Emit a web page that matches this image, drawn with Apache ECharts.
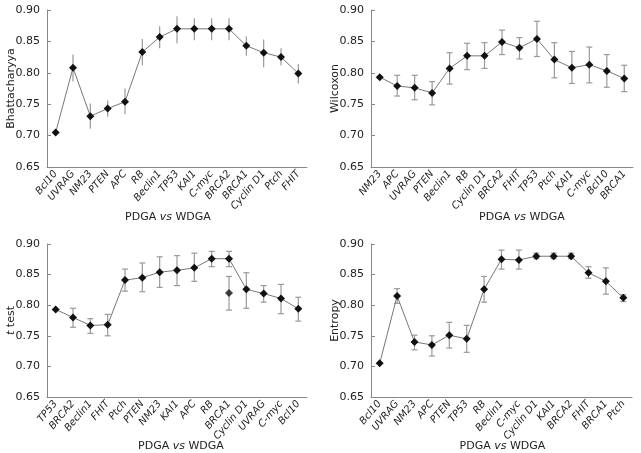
<!DOCTYPE html>
<html><head><meta charset="utf-8">
<script src="https://cdn.jsdelivr.net/npm/echarts@6/dist/echarts.min.js"></script>
<style>html,body{margin:0;padding:0;background:#fff}#c{width:641px;height:453px}</style>
</head><body><div id="c"></div>
<script>
// Panel 1: Bhattacharyya
var cats1 = ['Bcl10','UVRAG','NM23','PTEN','APC','RB','Beclin1','TP53','KAI1','C-myc','BRCA2','BRCA1','Cyclin D1','Ptch','FHIT'];
var vals1 = [0.705,0.808,0.731,0.743,0.754,0.833,0.857,0.870,0.870,0.870,0.870,0.843,0.832,0.825,0.799];
var lo1 = [null,0.786,0.711,0.730,0.734,0.812,0.839,0.847,0.852,0.852,0.852,0.827,0.809,0.812,0.783];
var hi1 = [null,0.829,0.751,0.756,0.775,0.854,0.874,0.890,0.887,0.887,0.887,0.858,0.853,0.839,0.814];
// Panel 2: Wilcoxon
var cats2 = ['NM23','APC','UVRAG','PTEN','Beclin1','RB','Cyclin D1','BRCA2','FHIT','TP53','Ptch','KAI1','C-myc','Bcl10','BRCA1'];
var vals2 = [0.793,0.779,0.776,0.768,0.807,0.827,0.827,0.849,0.840,0.854,0.821,0.808,0.813,0.803,0.791];
var lo2 = [null,0.763,0.757,0.749,0.782,0.805,0.807,0.829,0.822,0.826,0.792,0.783,0.784,0.777,0.770];
var hi2 = [null,0.796,0.796,0.786,0.832,0.847,0.848,0.868,0.856,0.882,0.848,0.834,0.841,0.829,0.812];
// Panel 3: t test
var cats3 = ['TP53','BRCA2','Beclin1','FHIT','Ptch','PTEN','NM23','KAI1','APC','RB','BRCA1','Cyclin D1','UVRAG','C-myc','Bcl10'];
var vals3 = [0.793,0.780,0.767,0.768,0.841,0.845,0.854,0.857,0.861,0.876,0.876,0.826,0.819,0.811,0.794];
var lo3 = [null,0.764,0.754,0.750,0.823,0.822,0.829,0.832,0.839,0.863,0.863,0.795,0.805,0.786,0.774];
var hi3 = [null,0.795,0.778,0.785,0.859,0.869,0.879,0.881,0.885,0.888,0.888,0.853,0.832,0.834,0.813];
var extraCat3 = 'BRCA1';
var extraVal3 = 0.820, extraLo3 = 0.792, extraHi3 = 0.847;
// Panel 4: Entropy
var cats4 = ['Bcl10','UVRAG','NM23','APC','PTEN','TP53','RB','Beclin1','C-myc','Cyclin D1','KAI1','BRCA2','FHIT','BRCA1','Ptch'];
var vals4 = [0.705,0.815,0.740,0.735,0.751,0.745,0.826,0.875,0.874,0.880,0.880,0.880,0.853,0.839,0.812];
var lo4 = [null,0.803,0.727,0.717,0.730,0.723,0.805,0.859,0.859,0.876,0.876,0.876,0.844,0.818,0.806];
var hi4 = [null,0.827,0.751,0.750,0.772,0.767,0.847,0.890,0.890,0.885,0.885,0.885,0.863,0.861,0.817];

var yNames = ['Bhattacharyya','Wilcoxon','{i|t} test','Entropy'];

var FONT = 'DejaVu Sans';
var grids = [
  {left:47, top:10, width:260, height:157},
  {left:371, top:10, width:262, height:157},
  {left:47, top:244, width:260, height:157},
  {left:371, top:244, width:261, height:157}
];
var namePad = [[0,18,0,0],[0,0,0,40],[0,0,0,8],[0,0,0,2]];
var catsAll = [cats1,cats2,cats3,cats4];
var valsAll = [vals1,vals2,vals3,vals4];
var loAll = [lo1,lo2,lo3,lo4];
var hiAll = [hi1,hi2,hi3,hi4];
var caps = [false,true,true,true];

var xAxes=[], yAxes=[], series=[];
for (var k=0;k<4;k++){
  xAxes.push({
    type:'category', gridIndex:k, data:catsAll[k], boundaryGap:true,
    axisLine:{lineStyle:{color:'#888',width:1}},
    axisTick:{inside:true,length:4,lineStyle:{color:'#888'}},
    axisLabel:{rotate:50,interval:0,fontFamily:FONT,fontStyle:'italic',fontSize:10,color:'#222',margin:5},
    name:'{n|PDGA }{i|vs}{n| WDGA}', nameLocation:'middle', nameGap:k<2?45:44, nameMoveOverlap:false,
    nameTextStyle:{padding:namePad[k],rich:{n:{fontFamily:FONT,fontSize:11,color:'#222'},i:{fontFamily:FONT,fontSize:11,fontStyle:'italic',color:'#222'}}}
  });
  yAxes.push({
    type:'value', gridIndex:k, min:0.65, max:0.90, interval:0.05,
    axisLine:{show:true,lineStyle:{color:'#888',width:1}},
    axisTick:{show:true,inside:true,length:4,lineStyle:{color:'#888'}},
    splitLine:{show:false},
    axisLabel:{fontFamily:FONT,fontSize:11,color:'#222',margin:7,formatter:function(v){return v.toFixed(2);}},
    name:yNames[k], nameLocation:'middle', nameGap:30, nameMoveOverlap:false,
    nameTextStyle:{fontFamily:FONT,fontSize:11,color:'#222',rich:{i:{fontFamily:FONT,fontSize:11,fontStyle:'italic',color:'#222'}}}
  });
  var errData=[];
  for (var i=0;i<catsAll[k].length;i++){
    if (loAll[k][i]!=null) errData.push([i,loAll[k][i],hiAll[k][i]]);
  }
  if (k===2){ errData.push([cats3.indexOf(extraCat3),extraLo3,extraHi3]); }
  (function(hasCap){
    series.push({
      type:'custom', xAxisIndex:k, yAxisIndex:k, z:1,
      data:errData,
      encode:{x:0,y:[1,2]},
      renderItem:function(params,api){
        var x=api.value(0);
        var p1=api.coord([x,api.value(1)]);
        var p2=api.coord([x,api.value(2)]);
        var children=[{type:'line',shape:{x1:p1[0],y1:p1[1],x2:p2[0],y2:p2[1]},style:{stroke:'#999',lineWidth:1.2}}];
        if (hasCap){
          children.push({type:'line',shape:{x1:p1[0]-3,y1:p1[1],x2:p1[0]+3,y2:p1[1]},style:{stroke:'#999',lineWidth:1.2}});
          children.push({type:'line',shape:{x1:p2[0]-3,y1:p2[1],x2:p2[0]+3,y2:p2[1]},style:{stroke:'#999',lineWidth:1.2}});
        }
        return {type:'group',children:children};
      }
    });
  })(caps[k]);
  series.push({
    type:'line', xAxisIndex:k, yAxisIndex:k, z:3, data:valsAll[k],
    symbol:'diamond', symbolSize:8, showSymbol:true,
    lineStyle:{color:'#777',width:1}, itemStyle:{color:'#111'},
    animation:false
  });
  if (k===2){
    var sd = cats3.map(function(c){return c===extraCat3?extraVal3:null;});
    series.push({type:'scatter', xAxisIndex:2, yAxisIndex:2, z:3, data:sd, symbol:'diamond', symbolSize:8, itemStyle:{color:'#111'}});
  }
}
var chart = echarts.init(document.getElementById('c'));
chart.setOption({animation:false, grid:grids, xAxis:xAxes, yAxis:yAxes, series:series});
</script></body></html>
